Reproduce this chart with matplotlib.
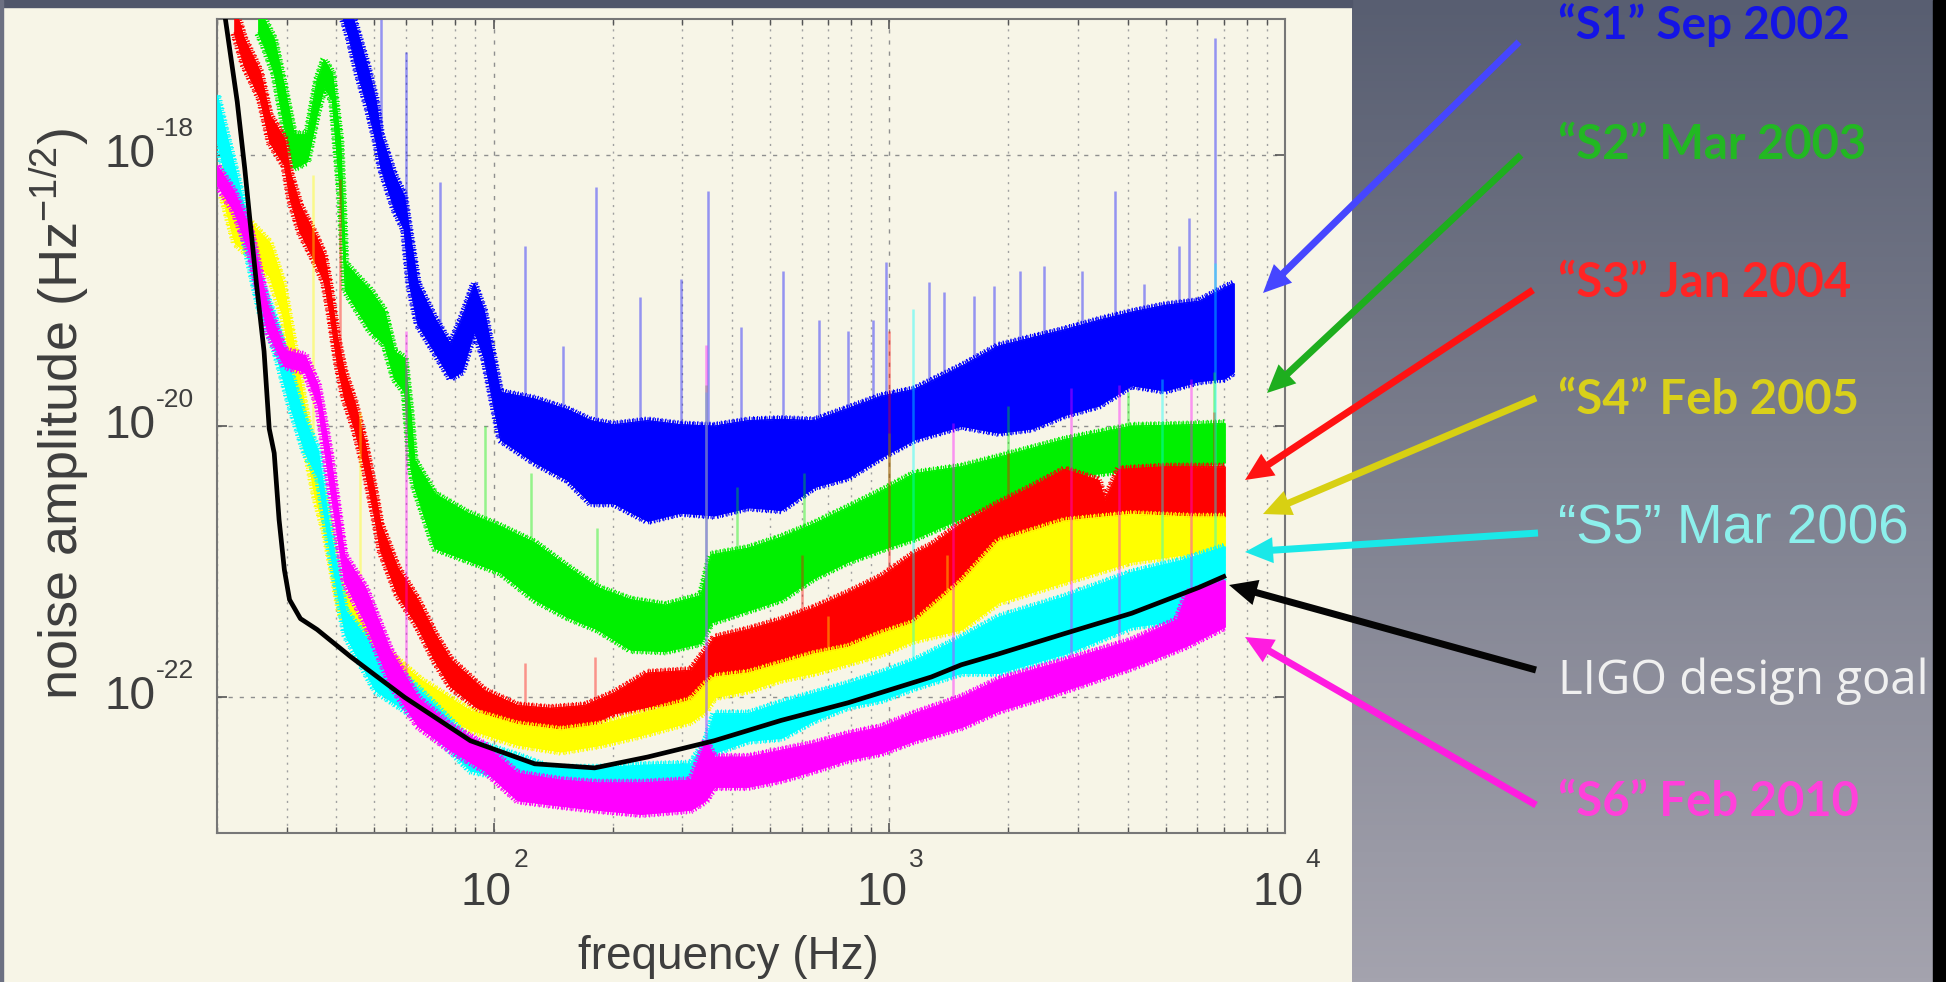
#!/usr/bin/env python3
import numpy as np
import matplotlib
matplotlib.use("Agg")
import matplotlib.pyplot as plt
from matplotlib import patheffects
from matplotlib.patches import Rectangle, FancyArrow
from matplotlib.ticker import FixedLocator, NullLocator, NullFormatter

plt.rcParams.update({
    "font.family": ["Liberation Sans", "DejaVu Sans"],
    "mathtext.fontset": "custom",
    "mathtext.rm": "Liberation Sans",
    "mathtext.it": "Liberation Sans:italic",
    "mathtext.bf": "Liberation Sans:bold",
})

W, H, DPI = 1946, 982, 100

# ---- values: frequency (Hz), log10 of noise amplitude (band top / bottom)
s1_f = [41.7, 43.2, 45.3, 48.0, 50.4, 51.9, 56.1, 59.4, 61.2, 64.3, 70.8, 77.8, 83.2, 89.3, 94.6,
        104, 127, 154, 176, 201, 245, 297, 361, 440, 533, 646, 787, 955, 1157, 1521, 1888, 2287,
        2773, 3381, 4100, 4970, 6060, 7050, 7430]
s1_top = [-16.8, -16.9, -17.1, -17.35, -17.6, -17.85, -18.15, -18.3, -18.55, -18.95, -19.2, -19.4,
          -19.2, -18.95, -19.15, -19.75, -19.8, -19.88, -19.96, -19.99, -19.96, -19.99, -20.0, -19.96,
          -19.95, -19.96, -19.87, -19.78, -19.73, -19.56, -19.41, -19.35, -19.29, -19.22, -19.16,
          -19.11, -19.08, -18.98, -18.95]
s1_bot = [-17.0, -17.15, -17.4, -17.65, -17.9, -18.1, -18.4, -18.55, -18.95, -19.25, -19.45, -19.65,
          -19.6, -19.3, -19.5, -20.1, -20.27, -20.4, -20.57, -20.57, -20.7, -20.64, -20.66, -20.6,
          -20.62, -20.45, -20.38, -20.23, -20.10, -20.0, -20.05, -20.02, -19.92, -19.85, -19.70,
          -19.74, -19.67, -19.65, -19.6]

s2_f = [25.4, 26.3, 27.9, 29.6, 31.3, 33.8, 35.8, 37.3, 39.1, 41.0, 42.2, 45.3, 48.8, 53.0, 56.1,
        59.6, 61.7, 63.1, 71.0, 85.9, 104, 127, 154, 183, 222, 272, 334, 354, 440, 533, 646, 787,
        955, 1157, 1521, 1888, 2773, 4100, 5820, 7050]
s2_top = [-16.9, -17.0, -17.15, -17.5, -17.85, -17.85, -17.45, -17.3, -17.4, -17.9, -18.8, -18.9,
          -19.0, -19.15, -19.45, -19.5, -19.9, -20.25, -20.5, -20.64, -20.74, -20.86, -21.04, -21.19,
          -21.28, -21.32, -21.25, -20.95, -20.9, -20.82, -20.72, -20.6, -20.48, -20.35, -20.3, -20.23,
          -20.1, -20.0, -19.99, -19.98]
s2_bot = [-17.1, -17.2, -17.4, -17.8, -18.1, -18.05, -17.7, -17.5, -17.6, -18.3, -19.0, -19.15,
          -19.3, -19.4, -19.65, -19.75, -20.3, -20.45, -20.9, -20.99, -21.08, -21.28, -21.41, -21.5,
          -21.65, -21.66, -21.6, -21.45, -21.36, -21.28, -21.12, -21.0, -20.91, -20.83, -20.68,
          -20.57, -20.38, -20.32, -20.3, -20.27]

s3_f = [22.1, 23.4, 25.7, 27.2, 29.6, 30.6, 32.4, 35.8, 37.3, 38.6, 40.3, 42.0, 44.5, 47.1, 50.0,
        51.8, 57.1, 64.3, 71.0, 77.8, 94.9, 115, 139, 170, 201, 245, 315, 344, 361, 440, 533, 646,
        787, 955, 1157, 1277, 1521, 1888, 2287, 2773, 3381, 3500, 3800, 4970, 7050]
s3_top = [-16.9, -17.14, -17.39, -17.71, -17.88, -18.13, -18.37, -18.62, -18.74, -18.98, -19.35,
          -19.6, -19.82, -20.1, -20.47, -20.72, -21.04, -21.28, -21.53, -21.72, -21.95, -22.06,
          -22.08, -22.06, -21.97, -21.82, -21.8, -21.65, -21.56, -21.5, -21.43, -21.34, -21.23,
          -21.11, -20.94, -20.88, -20.72, -20.57, -20.45, -20.32, -20.4, -20.55, -20.32, -20.3, -20.3]
s3_bot = [-17.1, -17.34, -17.59, -17.91, -18.08, -18.33, -18.57, -18.82, -18.94, -19.18, -19.55,
          -19.8, -20.02, -20.3, -20.67, -20.92, -21.24, -21.48, -21.73, -21.92, -22.12, -22.22,
          -22.24, -22.22, -22.12, -22.07, -22.04, -21.95, -21.9, -21.85, -21.78, -21.73, -21.68,
          -21.58, -21.43, -21.33, -21.15, -20.89, -20.79, -20.75, -20.72, -20.72, -20.71, -20.69,
          -20.67]

s4_f = [20.6, 22.2, 24.3, 27.2, 29.4, 32.4, 35.4, 37.6, 41.0, 48.8, 65.3, 87.4, 115, 148, 187, 236,
        315, 344, 361, 440, 533, 646, 787, 955, 1157, 1521, 1888, 2773, 4100, 5820, 7050]
s4_top = [-18.05, -18.4, -18.5, -18.65, -18.95, -19.65, -20.28, -20.58, -21.18, -21.55, -21.87,
          -22.1, -22.2, -22.24, -22.2, -22.12, -22.02, -21.9, -21.85, -21.82, -21.75, -21.68, -21.63,
          -21.53, -21.45, -21.15, -20.85, -20.7, -20.65, -20.67, -20.67]
s4_bot = [-18.3, -18.65, -18.75, -18.9, -19.2, -19.95, -20.52, -20.8, -21.38, -21.75, -22.03,
          -22.24, -22.35, -22.4, -22.35, -22.28, -22.18, -22.1, -22.0, -21.95, -21.87, -21.82, -21.75,
          -21.68, -21.58, -21.5, -21.3, -21.15, -21.0, -20.94, -20.9]

s5_f = [20.0, 21.0, 22.9, 25.7, 28.1, 30.6, 33.4, 36.0, 38.6, 42.2, 50.3, 65.3, 87.4, 115, 139, 183,
        236, 315, 344, 361, 440, 533, 646, 787, 955, 1157, 1521, 1888, 2773, 4100, 5500, 7050]
s5_top = [-17.56, -17.82, -18.26, -18.92, -19.22, -19.59, -19.96, -20.18, -20.77, -21.36, -21.65,
          -21.95, -22.32, -22.43, -22.52, -22.52, -22.5, -22.49, -22.32, -22.12, -22.12, -22.04,
          -21.97, -21.9, -21.82, -21.73, -21.56, -21.41, -21.26, -21.08, -20.99, -20.89]
s5_bot = [-17.9, -18.15, -18.5, -19.15, -19.45, -19.85, -20.2, -20.38, -20.92, -21.54, -21.95,
          -22.17, -22.54, -22.61, -22.69, -22.69, -22.66, -22.66, -22.61, -22.41, -22.32, -22.3,
          -22.17, -22.07, -22.02, -21.93, -21.82, -21.82, -21.68, -21.48, -21.43, -21.11]

s6_f = [20.0, 22.1, 24.3, 26.8, 29.6, 33.4, 36.0, 38.6, 42.0, 47.4, 54.8, 64.3, 77.8, 94.9, 115, 148,
        183, 236, 315, 344, 361, 440, 533, 646, 787, 955, 1157, 1521, 1888, 2773, 4100, 5330, 5650,
        7050]
s6_top = [-18.08, -18.27, -18.55, -19.1, -19.44, -19.48, -19.7, -20.2, -20.95, -21.19, -21.65,
          -22.0, -22.21, -22.35, -22.56, -22.61, -22.63, -22.63, -22.61, -22.32, -22.44, -22.44,
          -22.39, -22.34, -22.27, -22.22, -22.12, -22.0, -21.87, -21.73, -21.58, -21.43, -21.23,
          -21.14]
s6_bot = [-18.22, -18.42, -18.75, -19.3, -19.56, -19.6, -19.85, -20.45, -21.15, -21.45, -21.9,
          -22.21, -22.39, -22.54, -22.76, -22.8, -22.83, -22.86, -22.83, -22.76, -22.66, -22.66,
          -22.61, -22.54, -22.46, -22.41, -22.32, -22.22, -22.1, -21.95, -21.78, -21.65, -21.62,
          -21.48]

# narrow lines sticking out of each band: frequency (Hz), log10 of the top
s1_line_f = [52, 60, 73, 120, 150, 181, 235, 297, 348, 422, 539, 665, 787, 910, 981, 1262, 1377,
             1641, 1844, 2134, 2466, 3062, 3715, 4400, 5395, 5718, 6653]
s1_line_top = [-16.9, -17.24, -18.2, -18.67, -19.41, -18.24, -19.05, -18.92, -18.27, -19.27, -18.86,
               -19.22, -19.3, -19.22, -18.79, -18.94, -19.01, -19.04, -18.97, -18.86, -18.82, -18.86,
               -18.27, -18.95, -18.67, -18.47, -17.14]
s2_line_f = [95, 124, 183, 345, 412, 610, 1000, 2000, 4000, 6600]
s2_line_top = [-20.0, -20.35, -20.75, -19.7, -20.45, -20.35, -20.05, -19.85, -19.75, -19.6]
s3_line_f = [35.2, 41, 120, 180, 600, 1000, 2000, 6600]
s3_line_top = [-18.57, -18.18, -21.75, -21.7, -20.95, -19.3, -20.2, -19.9]
s4_line_f = [35, 46, 700, 1400]
s4_line_top = [-18.15, -19.9, -21.4, -20.95]
s5_line_f = [345, 1150, 4900, 6650]
s5_line_top = [-19.75, -19.14, -19.65, -18.8]
s6_line_f = [60, 345, 1450, 2880, 3800, 5800]
s6_line_top = [-19.3, -19.4, -19.98, -19.72, -19.7, -19.65]

goal_f = [21.0, 22.5, 23.5, 24.2, 25.2, 26.3, 27.1, 27.9, 28.7, 29.6, 30.5, 32.5, 35.8, 43.5, 50.9,
          59.6, 87.4, 127, 180, 245, 361, 533, 787, 1277, 1521, 1888, 2773, 4100, 6060, 7000]
goal_amp = [-17.0, -17.61, -18.1, -18.47, -18.97, -19.45, -20.02, -20.2, -20.69, -21.06, -21.28,
            -21.42, -21.5, -21.70, -21.85, -22.0, -22.32, -22.49, -22.52, -22.44, -22.32, -22.17,
            -22.04, -21.85, -21.76, -21.68, -21.53, -21.38, -21.19, -21.11]

run_labels = ["\u201cS1\u201d Sep 2002", "\u201cS2\u201d Mar 2003", "\u201cS3\u201d Jan 2004",
              "\u201cS4\u201d Feb 2005", "\u201cS5\u201d Mar 2006", "LIGO design goal",
              "\u201cS6\u201d Feb 2010"]

series = [
    (s1_f, s1_top, s1_bot, s1_line_f, s1_line_top, "#0000ff"),
    (s2_f, s2_top, s2_bot, s2_line_f, s2_line_top, "#00f000"),
    (s3_f, s3_top, s3_bot, s3_line_f, s3_line_top, "#ff0000"),
    (s4_f, s4_top, s4_bot, s4_line_f, s4_line_top, "#ffff00"),
    (s5_f, s5_top, s5_bot, s5_line_f, s5_line_top, "#00ffff"),
    (s6_f, s6_top, s6_bot, s6_line_f, s6_line_top, "#ff00ff"),
]

fig = plt.figure(figsize=(W / DPI, H / DPI), dpi=DPI)

# background: cream slide area, grey panel on the right
bg = fig.add_axes([0, 0, 1, 1], zorder=0)
bg.add_patch(Rectangle((0, 0), W, H, color="#f7f5e7", zorder=1))
top_c = np.array([0x58, 0x5e, 0x71]) / 255
bot_c = np.array([0xa4, 0xa3, 0xae]) / 255
grad = top_c + np.linspace(0, 1, 256)[:, None, None] * (bot_c - top_c)
bg.imshow(grad, extent=[1352, 1934, H, 0], aspect="auto", zorder=2)
bg.add_patch(Rectangle((0, 0), 1352, 7, color="#50566a", zorder=3))
bg.add_patch(Rectangle((0, 0), 3, H, color="#6c7082", zorder=3))
bg.set_xlim(0, W)
bg.set_ylim(H, 0)
bg.axis("off")

ax = fig.add_axes([217 / W, 1 - 833 / H, (1285 - 217) / W, (833 - 19) / H], zorder=1)
ax.set_facecolor("none")
ax.set_xscale("log")
ax.set_yscale("log")

# short ragged fringe drawn on both edges of every band
fringe_up = [patheffects.withTickedStroke(angle=90, spacing=1.8, length=1.1, linewidth=0.8),
             patheffects.withTickedStroke(angle=80, spacing=2.9, length=0.9, linewidth=0.8)]
fringe_dn = [patheffects.withTickedStroke(angle=-90, spacing=2.1, length=1.0, linewidth=0.8),
             patheffects.withTickedStroke(angle=-100, spacing=3.3, length=0.8, linewidth=0.8)]

for i, (f, top, bot, lf, ltop, col) in enumerate(series):
    f = np.array(f)
    lo = 10.0 ** np.array(bot)
    hi = 10.0 ** np.array(top)
    base = 10.0 ** np.interp(np.log10(lf), np.log10(f), bot)
    ax.vlines(lf, base, 10.0 ** np.array(ltop), color=col, alpha=0.4, lw=1.8, zorder=2 + 2 * i)
    ax.fill_between(f, lo, hi, color=col, lw=0.6, edgecolor=col, zorder=3 + 2 * i)
    ax.plot(f, hi, color=col, lw=0.5, path_effects=fringe_up, zorder=3 + 2 * i)
    ax.plot(f, lo, color=col, lw=0.5, path_effects=fringe_dn, zorder=3 + 2 * i)

ax.plot(goal_f, 10.0 ** np.array(goal_amp), color="black", lw=3.4, zorder=20,
        solid_joinstyle="round")

ax.set_xlim(20, 1e4)
ax.set_ylim(1e-23, 1e-17)
ax.xaxis.set_major_locator(FixedLocator([1e2, 1e3, 1e4]))
ax.xaxis.set_minor_locator(FixedLocator([k * 10 ** d for d in (1, 2, 3) for k in range(2, 10)]))
ax.yaxis.set_major_locator(FixedLocator([1e-22, 1e-20, 1e-18]))
ax.yaxis.set_minor_locator(NullLocator())
ax.xaxis.set_major_formatter(NullFormatter())
ax.xaxis.set_minor_formatter(NullFormatter())
ax.yaxis.set_major_formatter(NullFormatter())
ax.tick_params(which="both", direction="in", top=True, right=True, color="#555555")
ax.tick_params(which="major", length=7, width=1.2)
ax.tick_params(which="minor", length=4, width=1.0)
ax.set_axisbelow(True)
ax.grid(which="major", axis="both", ls=(0, (3, 5)), color="#8f8f8f", lw=1.0)
ax.grid(which="minor", axis="x", ls=(0, (1.5, 4)), color="#a0a0a0", lw=1.0)
for sp in ax.spines.values():
    sp.set_color("#777777")
    sp.set_linewidth(1.5)

tick_col = "#3e3e3e"
for t, p in zip([1e2, 1e3, 1e4], ["2", "3", "4"]):
    ax.annotate("10", xy=(t, 0), xycoords=ax.get_xaxis_transform(), xytext=(18, -38),
                textcoords="offset pixels", ha="right", va="top", fontsize=33, color=tick_col,
                annotation_clip=False)
    ax.annotate(p, xy=(t, 0), xycoords=ax.get_xaxis_transform(), xytext=(20, -27),
                textcoords="offset pixels", ha="left", va="center", fontsize=19, color=tick_col,
                annotation_clip=False)
for t, p in zip([1e-22, 1e-20, 1e-18], ["-22", "-20", "-18"]):
    ax.annotate("10", xy=(0, t), xycoords=ax.get_yaxis_transform(), xytext=(-62, 0),
                textcoords="offset pixels", ha="right", va="center", fontsize=33, color=tick_col,
                annotation_clip=False)
    ax.annotate(p, xy=(0, t), xycoords=ax.get_yaxis_transform(), xytext=(-61, 26),
                textcoords="offset pixels", ha="left", va="center", fontsize=19, color=tick_col,
                annotation_clip=False)

# overlay in pixel units for labels and arrows
ov = fig.add_axes([0, 0, 1, 1], zorder=2)
ov.set_xlim(0, W)
ov.set_ylim(H, 0)
ov.axis("off")

ov.text(728, 957, "frequency (Hz)", ha="center", va="center", fontsize=33, color=tick_col)
ov.text(60, 414, r"noise amplitude (Hz$^{-1/2}$)", rotation=90, ha="center", va="center",
        fontsize=39, color=tick_col)

label_y = [25, 145, 283, 400, 530, 681, 802]
label_col = ["#1414e6", "#22b822", "#ff2424", "#d9d01a", "#8cf0ec", "#f0f0f0", "#ff40da"]
label_font = [("Lato", "bold", 33), ("Lato", "bold", 34), ("Lato", "bold", 34), ("Lato", "bold", 34),
              ("Liberation Sans", "normal", 39.5), ("Open Sans", "normal", 34), ("Lato", "bold", 34)]
for txt, y, c, (fam, wt, fs) in zip(run_labels, label_y, label_col, label_font):
    ov.text(1558, y, txt, color=c, fontfamily=fam, fontweight=wt, fontsize=fs,
            ha="left", va="center", zorder=5)

arrows = [
    ((1519, 42), (1263, 293), "#4646ff"),
    ((1521, 155), (1267, 393), "#1eae1e"),
    ((1533, 290), (1245, 480), "#ff1212"),
    ((1536, 398), (1263, 514), "#d8d012"),
    ((1538, 533), (1245, 552), "#1ae8e8"),
    ((1536, 670), (1229, 585), "#050505"),
    ((1536, 805), (1245, 637), "#ff1ce0"),
]
for (x0, y0), (x1, y1), c in arrows:
    ov.add_patch(FancyArrow(x0, y0, x1 - x0, y1 - y0, width=7, head_width=26, head_length=28,
                            length_includes_head=True, fc=c, ec="none", zorder=4))

ov.add_patch(Rectangle((1933, 0), W - 1933, H, color="black", zorder=10))

fig.savefig("out.png", dpi=DPI)
